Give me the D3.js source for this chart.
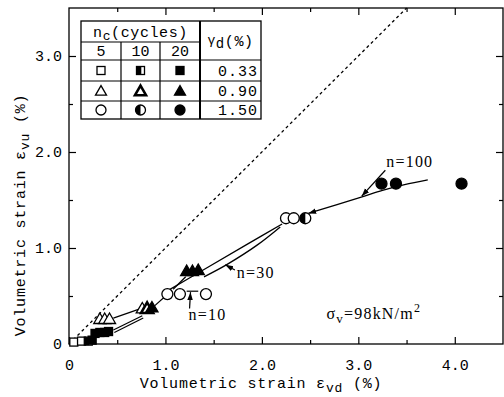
<!DOCTYPE html>
<html>
<head>
<meta charset="utf-8">
<script src="https://cdn.jsdelivr.net/npm/d3@7"></script>
<style>
  body { margin: 0; background: #fff; }
  svg { display: block; }
  .mono { font-family: "Liberation Mono", "DejaVu Sans Mono", monospace; fill: #000; }
  .serif { font-family: "Liberation Serif", serif; fill: #000; }
</style>
</head>
<body>
<div id="chart"></div>
<script>
(function () {
  "use strict";

  // axis ticks
  var xMajor = [0, 1, 2, 3, 4];
  var xMinor = [0.5, 1.5, 2.5, 3.5];
  var yMajor = [0, 1, 2, 3];
  var yMinor = [0.5, 1.5, 2.5];

  // legend table
  var cycles = ["5", "10", "20"];
  var fills = ["open", "half", "full"];
  var shapes = ["square", "triangle", "circle"];
  var gammaD = ["0.33", "0.90", "1.50"];

  // gamma_d = 0.33 %
  var squareX = [0.05, 0.13, 0.20, 0.24, 0.27, 0.32, 0.37, 0.41];
  var squareY = [0.02, 0.03, 0.03, 0.04, 0.11, 0.12, 0.12, 0.13];
  var squareFill = ["open", "open", "half", "full", "full", "full", "full", "full"];

  // gamma_d = 0.90 %
  var triX = [0.32, 0.37, 0.42, 0.76, 0.81, 0.86, 1.22, 1.28, 1.34];
  var triY = [0.25, 0.25, 0.25, 0.36, 0.36, 0.37, 0.75, 0.75, 0.76];
  var triFill = ["open", "open", "open", "open", "half", "full", "full", "full", "full"];

  // gamma_d = 1.50 %
  var circX = [1.02, 1.15, 1.42, 2.25, 2.33, 2.45, 3.24, 3.39, 4.07];
  var circY = [0.52, 0.52, 0.52, 1.31, 1.31, 1.31, 1.67, 1.67, 1.67];
  var circFill = ["open", "open", "open", "open", "open", "half", "full", "full", "full"];

  // drawn curves (strain pairs)
  var curveDoubleA = [[0.46, 0.145], [0.76, 0.295]];
  var curveDoubleB = [[0.47, 0.12], [0.77, 0.27]];
  var curveLowTri = [[0.46, 0.27], [0.72, 0.36]];
  var curveMidTri = [[0.89, 0.40], [0.99, 0.49]];
  var curveCircTri = [[1.08, 0.57], [1.21, 0.70]];
  var curveUpper = [[0.98, 0.53], [1.44, 0.80], [1.85, 1.04], [2.21, 1.25]];
  var curveLower = [[1.40, 0.70], [1.64, 0.83], [1.95, 1.03], [2.19, 1.22]];
  var curveN100 = [[2.48, 1.36], [3.03, 1.53], [3.25, 1.60], [3.48, 1.66], [3.72, 1.71]];
  var curveN10 = [[1.22, 0.55], [1.34, 0.55]];

  var margin = { top: 8, right: 1, bottom: 53, left: 69 };
  var width = 504 - margin.left - margin.right;
  var height = 397 - margin.top - margin.bottom;

  var svg = d3.select("#chart").append("svg")
    .attr("width", 504)
    .attr("height", 397);

  svg.append("defs").append("marker")
    .attr("id", "arr")
    .attr("markerUnits", "userSpaceOnUse")
    .attr("viewBox", "0 0 10 10")
    .attr("refX", 10).attr("refY", 5)
    .attr("markerWidth", 8).attr("markerHeight", 8)
    .attr("orient", "auto-start-reverse")
    .append("path")
    .attr("d", "M0,1.5L10,5L0,8.5Z")
    .attr("fill", "#000");

  var g = svg.append("g").attr("transform", "translate(" + margin.left + "," + margin.top + ")");

  var x = d3.scaleLinear().domain([0, 4.5]).range([0, width]);
  var y = d3.scaleLinear().domain([0, 3.5]).range([height, 0]);

  function fmt(d) { return d === 0 ? "0" : d3.format(".1f")(d); }

  // ticks on all four sides, pointing inward
  function axisGroup(axis, tx, ty) {
    var a = g.append("g").attr("transform", "translate(" + tx + "," + ty + ")").call(axis);
    a.select(".domain").remove();
    a.selectAll("line").attr("stroke", "#000").attr("stroke-width", 1.2);
    a.selectAll("text").attr("class", "mono").attr("font-size", 15).attr("fill", "#000");
    return a;
  }
  axisGroup(d3.axisBottom(x).tickValues(xMajor).tickSize(-7).tickFormat(fmt), 0, height)
    .selectAll("text").attr("dy", "0.71em").attr("y", 15);
  axisGroup(d3.axisBottom(x).tickValues(xMinor).tickSize(-4).tickFormat(""), 0, height);
  axisGroup(d3.axisTop(x).tickValues(xMajor.slice(1)).tickSize(-7).tickFormat(""), 0, 0);
  axisGroup(d3.axisTop(x).tickValues(xMinor).tickSize(-4).tickFormat(""), 0, 0);
  axisGroup(d3.axisLeft(y).tickValues(yMajor).tickSize(-7).tickPadding(7).tickFormat(fmt), 0, 0);
  axisGroup(d3.axisLeft(y).tickValues(yMinor).tickSize(-4).tickFormat(""), 0, 0);
  axisGroup(d3.axisRight(y).tickValues(yMajor.slice(1)).tickSize(-7).tickFormat(""), width, 0);
  axisGroup(d3.axisRight(y).tickValues(yMinor).tickSize(-4).tickFormat(""), width, 0);

  g.append("rect")
    .attr("width", width).attr("height", height)
    .attr("fill", "none").attr("stroke", "#000").attr("stroke-width", 1.3);

  // 1:1 line
  g.append("line")
    .attr("x1", x(0)).attr("y1", y(0))
    .attr("x2", x(3.5)).attr("y2", y(3.5))
    .attr("stroke", "#000").attr("stroke-width", 1.3)
    .attr("stroke-dasharray", "3,3");

  var line = d3.line().x(function (d) { return x(d[0]); }).y(function (d) { return y(d[1]); });
  var smooth = d3.line().curve(d3.curveCatmullRom).x(function (d) { return x(d[0]); }).y(function (d) { return y(d[1]); });

  [curveDoubleA, curveDoubleB, curveLowTri, curveMidTri, curveCircTri, curveN10].forEach(function (c) {
    g.append("path").attr("d", line(c)).attr("fill", "none").attr("stroke", "#000").attr("stroke-width", 1.2);
  });
  [curveUpper, curveLower].forEach(function (c) {
    g.append("path").attr("d", smooth(c)).attr("fill", "none").attr("stroke", "#000").attr("stroke-width", 1.3);
  });
  g.append("path").attr("d", smooth(curveN100)).attr("fill", "none")
    .attr("stroke", "#000").attr("stroke-width", 1.3)
    .attr("marker-start", "url(#arr)");

  // symbols
  function symbol(sel, shape, fill, cx, cy, s) {
    var k = sel.append("g").attr("transform", "translate(" + cx + "," + cy + ")");
    if (shape === "square") {
      var h = s * 0.4;
      k.append("rect").attr("x", -h).attr("y", -h).attr("width", 2 * h).attr("height", 2 * h)
        .attr("fill", fill === "full" ? "#000" : "#fff").attr("stroke", "#000").attr("stroke-width", 1.3);
      if (fill === "half") {
        k.append("rect").attr("x", -h).attr("y", -h).attr("width", h * 1.2).attr("height", 2 * h).attr("fill", "#000");
      }
    } else if (shape === "triangle") {
      var t = s * 0.55, th = t * 1.732;
      var p = "M0," + (-th * 2 / 3) + "L" + t + "," + (th / 3) + "L" + (-t) + "," + (th / 3) + "Z";
      k.append("path").attr("d", p)
        .attr("fill", fill === "full" ? "#000" : "#fff")
        .attr("stroke", "#000").attr("stroke-width", fill === "half" ? 2.6 : 1.3)
        .attr("stroke-linejoin", "miter");
    } else {
      var r = s * 0.5;
      k.append("circle").attr("r", r)
        .attr("fill", fill === "full" ? "#000" : "#fff").attr("stroke", "#000").attr("stroke-width", 1.3);
      if (fill === "half") {
        k.append("path").attr("d", "M0," + (-r) + "A" + r + "," + r + " 0 0 0 0," + r + "Z").attr("fill", "#000");
      }
    }
  }

  var pts = g.append("g");
  squareX.forEach(function (d, i) { symbol(pts, "square", squareFill[i], x(d), y(squareY[i]), 10); });
  triX.forEach(function (d, i) { symbol(pts, "triangle", triFill[i], x(d), y(triY[i]), 11); });
  circX.forEach(function (d, i) { symbol(pts, "circle", circFill[i], x(d), y(circY[i]), 11); });

  // labels with arrows
  function arrow(a, b) {
    g.append("path").attr("d", line([a, b])).attr("fill", "none")
      .attr("stroke", "#000").attr("stroke-width", 1.2).attr("marker-end", "url(#arr)");
  }
  arrow([3.28, 1.81], [3.035, 1.54]);
  arrow([1.72, 0.77], [1.62, 0.825]);
  arrow([1.25, 0.37], [1.26, 0.54]);

  function label(txt, vx, vy) {
    return g.append("text").attr("class", "serif").attr("font-size", 16)
      .attr("letter-spacing", 1.2)
      .attr("x", x(vx)).attr("y", y(vy)).text(txt);
  }
  label("n=100", 3.29, 1.84);
  label("n=30", 1.74, 0.685);
  label("n=10", 1.24, 0.25);
  var sv = g.append("text").attr("class", "serif").attr("font-size", 16)
    .attr("letter-spacing", 1.2).attr("x", x(2.67)).attr("y", y(0.265));
  sv.append("tspan").text("σ");
  sv.append("tspan").attr("dy", 4).attr("font-size", 13).text("v");
  sv.append("tspan").attr("dy", -4).text("=98kN/m");
  sv.append("tspan").attr("dy", -7).attr("font-size", 12).text("2");

  // axis titles
  var xt = svg.append("text").attr("class", "mono").attr("font-size", 15)
    .attr("letter-spacing", 0.8).attr("text-anchor", "middle")
    .attr("x", 261).attr("y", 388);
  xt.append("tspan").text("Volumetric strain ε");
  xt.append("tspan").attr("dy", 4).attr("font-size", 13).text("vd");
  xt.append("tspan").attr("dy", -4).text(" (%)");

  var yt = svg.append("text").attr("class", "mono").attr("font-size", 15)
    .attr("letter-spacing", 0.8).attr("text-anchor", "middle")
    .attr("transform", "translate(25,215) rotate(-90)");
  yt.append("tspan").text("Volumetric strain ε");
  yt.append("tspan").attr("dy", 4).attr("font-size", 13).text("vu");
  yt.append("tspan").attr("dy", -4).text(" (%)");

  // legend table
  var lg = svg.append("g");
  var colX = [81, 121, 160, 200, 261];
  var rowY = [21, 42, 60, 81, 101, 119];
  lg.append("rect").attr("x", colX[0]).attr("y", rowY[0])
    .attr("width", colX[4] - colX[0]).attr("height", rowY[5] - rowY[0])
    .attr("fill", "#fff").attr("stroke", "#000").attr("stroke-width", 1.3);
  lg.append("line").attr("x1", colX[0]).attr("x2", colX[3]).attr("y1", rowY[1]).attr("y2", rowY[1])
    .attr("stroke", "#000").attr("stroke-width", 1.2);
  [rowY[2], rowY[3], rowY[4]].forEach(function (ry) {
    lg.append("line").attr("x1", colX[0]).attr("x2", colX[4]).attr("y1", ry).attr("y2", ry)
      .attr("stroke", "#000").attr("stroke-width", 1.2);
  });
  [colX[1], colX[2]].forEach(function (cx) {
    lg.append("line").attr("x1", cx).attr("x2", cx).attr("y1", rowY[1]).attr("y2", rowY[5])
      .attr("stroke", "#000").attr("stroke-width", 1.2);
  });
  lg.append("line").attr("x1", colX[3]).attr("x2", colX[3]).attr("y1", rowY[0]).attr("y2", rowY[5])
    .attr("stroke", "#000").attr("stroke-width", 2);

  var hd = lg.append("text").attr("class", "mono").attr("font-size", 15).attr("letter-spacing", 0.6)
    .attr("text-anchor", "middle").attr("x", (colX[0] + colX[3]) / 2).attr("y", 37);
  hd.append("tspan").text("n");
  hd.append("tspan").attr("dy", 3).attr("font-size", 13).text("c");
  hd.append("tspan").attr("dy", -3).text("(cycles)");

  var gd = lg.append("text").attr("class", "mono").attr("font-size", 15).attr("letter-spacing", 0.6)
    .attr("text-anchor", "middle").attr("x", (colX[3] + colX[4]) / 2).attr("y", 46);
  gd.append("tspan").attr("font-size", 13).attr("dy", -2).text("γ");
  gd.append("tspan").attr("dy", 4).attr("font-size", 14).text("d");
  gd.append("tspan").attr("dy", -2).text("(%)");

  cycles.forEach(function (c, i) {
    lg.append("text").attr("class", "mono").attr("font-size", 15).attr("text-anchor", "middle")
      .attr("x", (colX[i] + colX[i + 1]) / 2).attr("y", 56).text(c);
  });
  shapes.forEach(function (sh, r) {
    var cy = (rowY[r + 2] + rowY[r + 3]) / 2;
    fills.forEach(function (f, c) {
      symbol(lg, sh, f, (colX[c] + colX[c + 1]) / 2, cy + (sh === "triangle" ? 1 : 0), 10);
    });
    lg.append("text").attr("class", "mono").attr("font-size", 15).attr("letter-spacing", 1)
      .attr("text-anchor", "end").attr("x", colX[4] - 3).attr("y", cy + 5).text(gammaD[r]);
  });
})();
</script>
</body>
</html>
